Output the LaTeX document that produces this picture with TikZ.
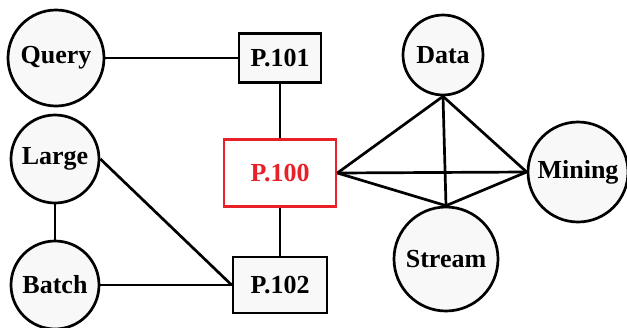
\documentclass[tikz,border=0pt]{standalone}
\usepackage{fontspec}
\setmainfont{Liberation Serif}
\definecolor{nodefill}{RGB}{248,248,248}
\definecolor{hotred}{RGB}{232,32,40}
\tikzset{
  term/.style={circle,draw,fill=nodefill,inner sep=0pt,
    font=\fontsize{26}{30}\selectfont\bfseries},
  page/.style={rectangle,draw,fill=nodefill,inner sep=0pt,
    font=\fontsize{26}{30}\selectfont\bfseries}
}
\begin{document}
\begin{tikzpicture}[x=1pt,y=-1pt,line width=2.7pt]
    \useasboundingbox (0,0) rectangle (627,327);
    \node[term,minimum size=96pt] (query) at (56,58) {Query};
    \node[term,minimum size=88pt] (large) at (55,159) {Large};
    \node[term,minimum size=88pt] (batch) at (55,285) {Batch};
    \node[term,minimum size=80pt] (data) at (443,55) {Data};
    \node[term,minimum size=100pt] (mining) at (578,172) {Mining};
    \node[term,minimum size=104pt] (stream) at (446,259) {Stream};
    \node[page,minimum width=82pt,minimum height=49pt] (p101) at (280,58) {P.101};
    \node[page,draw=hotred,fill=white,text=hotred,minimum width=112pt,minimum height=67pt] (p100) at (280,173) {P.100};
    \node[page,minimum width=94pt,minimum height=56pt] (p102) at (280,285) {P.102};
    \draw (query.east) -- (p101.west);
    \draw (p101.south) -- (p100.north);
    \draw (p100.south) -- (p102.north);
    \draw (large.south) -- (batch.north);
    \draw (large.east) -- (p102.west);
    \draw (batch.east) -- (p102.west);
    \draw (p100.east) -- (data.south);
    \draw (p100.east) -- (mining.west);
    \draw (p100.east) -- (stream.north);
    \draw (data.south) -- (stream.north);
    \draw (data.south) -- (mining.west);
    \draw (stream.north) -- (mining.west);
\end{tikzpicture}
\end{document}
